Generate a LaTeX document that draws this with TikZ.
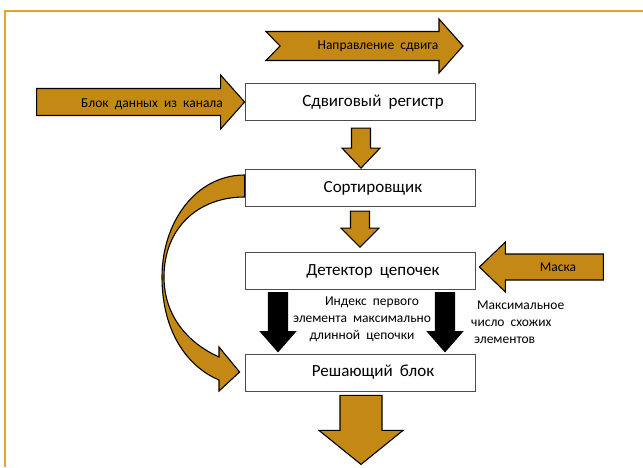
\documentclass[tikz,border=0pt]{standalone}
\usepackage{fontspec}
\setmainfont{Carlito}
\usepackage{xcolor}
\usepackage{tikz}
\usetikzlibrary{calc}
\definecolor{arrowgold}{RGB}{196,137,20}
\definecolor{frameorange}{RGB}{232,160,48}

\tikzset{
  stage/.style={draw=black!70,line width=0.8pt,fill=white,minimum width=230pt,minimum height=37pt,
    font=\fontsize{17}{20}\selectfont,execute at begin node={\spaceskip=0.42em\relax\hspace*{26pt}}},
  fatarrow/.style={draw=black,line width=1.1pt,line join=miter},
  tag/.style={font=\fontsize{13.5}{17}\selectfont,inner sep=0pt,execute at begin node={\spaceskip=0.45em\relax}}
}
% block arrows: tip, length, body half width, head half width, head length
\newcommand{\fatdown}[6]{%
  \filldraw[fatarrow,fill=#1](#2)--++(-#5,-#6)--++({#5-#4},0)--++(0,{-(#3-#6)})
    --++({2*#4},0)--++(0,{#3-#6})--++({#5-#4},0)--cycle;}
\newcommand{\fatright}[7][0]{%
  \filldraw[fatarrow,fill=#2](#3)--++(-#7,-#6)--++(0,{#6-#5})--++({-(#4-#7)},0)
    --++(#1,#5)--++(-#1,#5)--++({#4-#7},0)--++(0,{#6-#5})--cycle;}
\newcommand{\fatleft}[6]{%
  \filldraw[fatarrow,fill=#1](#2)--++(#6,-#5)--++(0,{#5-#4})--++({#3-#6},0)
    --++(0,{2*#4})--++({-(#3-#6)},0)--++(0,{#5-#4})--cycle;}

\begin{document}
\begin{tikzpicture}[x=1pt,y=-1pt]
  \useasboundingbox (0,0) rectangle (643,467);
  \draw[frameorange,line width=2pt](5,467)--(5,11)--(643,11);

  \node[stage] (reg) at (360,102) {Сдвиговый регистр};
  \node[stage] (sort) at (360,188) {Сортировщик};
  \node[stage] (det) at (360,271) {Детектор цепочек};
  \node[stage] (dec) at (360,372.5) {Решающий блок};

  % shift direction and input
  \coordinate (shifttip) at (463,46);
  \fatright[14]{arrowgold}{shifttip}{197}{14.5}{27}{24}
  \node[tag] (shiftlbl) at (378,46) {Направление сдвига};
  \fatright{arrowgold}{reg.west}{208}{13.5}{27}{24}
  \node[tag] (inlbl) at (152,104) {Блок данных из канала};

  % mask input
  \coordinate (masktip) at ($(det.east)+(4,-4)$);
  \fatleft{arrowgold}{masktip}{124}{13}{25}{26}
  \node[tag] (masklbl) at (558,267) {Маска};

  % flow between stages
  \fatdown{arrowgold}{$(sort.north)+(1,-1)$}{40}{9.5}{19}{20}
  \fatdown{arrowgold}{$(det.north)+(0,-5)$}{36}{9.5}{19}{19}
  \foreach \dx in {-82,85} { \fatdown{black}{$(dec.north)+(\dx,-2)$}{59}{9.5}{17.5}{20} }
  \fatdown{arrowgold}{$(dec.south)+(1,73)$}{69}{21}{42}{34}

  \node[tag,align=center] (idxlbl) at (362,319) {\hspace*{20pt}Индекс первого\\элемента максимально\\длинной цепочки};
  \node[tag,align=left,anchor=west] (maxlbl) at (471,322) {\hspace*{6pt}Максимальное\\число схожих\\\hspace*{3pt}элементов};

  % bypass from sorter to decision block
  \filldraw[fatarrow,fill=arrowgold]
    (sort.west|-0,175) .. controls (196,175) and (162,222) .. (162,277)
    .. controls (162,330) and (186,366) .. (219,380) -- (219,391) -- ($(dec.west)+(-5,-0.5)$)
    -- (219,347) -- (219,357) .. controls (188,343) and (164,316) .. (164,277)
    .. controls (164,228) and (198,197) .. (sort.west|-0,197) -- cycle;
\end{tikzpicture}
\end{document}
